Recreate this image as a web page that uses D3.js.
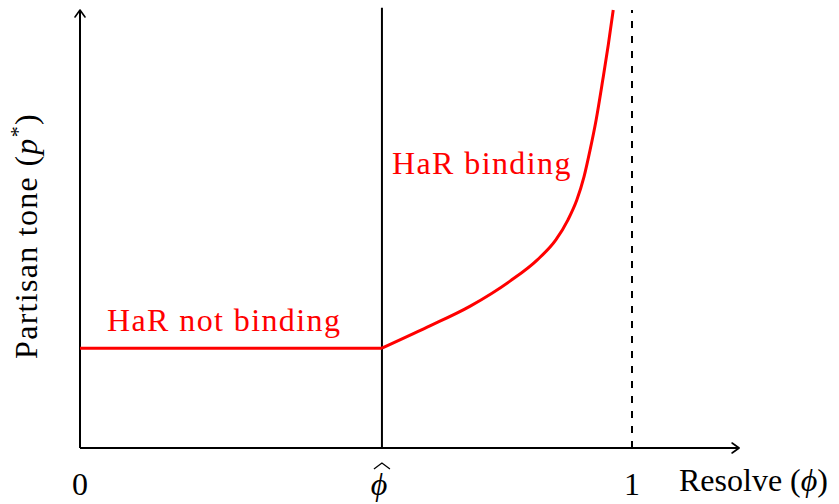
<!DOCTYPE html>
<html>
<head>
<meta charset="utf-8">
<script src="https://cdn.jsdelivr.net/npm/d3@7"></script>
<style>
  body { margin: 0; background: #fff; }
  text { font-family: "Liberation Serif", "Times New Roman", serif; }
</style>
</head>
<body>
<div id="chart"></div>
<script>
// values (x = resolve, y = partisan tone)
const phiHat = 0.547;
const flatLevel = 0.228;
const curveX = [0.547, 0.629, 0.707, 0.779, 0.828, 0.862, 0.884, 0.900, 0.913, 0.924, 0.935, 0.947, 0.957, 0.966];
const curveY = [0.228, 0.276, 0.324, 0.381, 0.429, 0.475, 0.521, 0.566, 0.619, 0.680, 0.749, 0.840, 0.920, 1.0];
const xTicks = [0, phiHat, 1];
const xTickLabels = ["0", "\u03D5", "1"];

const width = 839, height = 504;
const margin = {top: 10, right: 100, bottom: 56, left: 80};

const svg = d3.select("#chart").append("svg")
    .attr("width", width)
    .attr("height", height);

const x = d3.scaleLinear().domain([0, 1]).range([margin.left, 632]);
const y = d3.scaleLinear().domain([0, 1]).range([height - margin.bottom, margin.top]);

const xEnd = 1.194;   // where the x arrow stops
const yEnd = 1.0;

// axes with small open arrow heads
function arrowHead(tx, ty, dir) {
  const a = 7, b = 5;
  let p;
  if (dir === "right") p = [[tx - a, ty - b], [tx, ty], [tx - a, ty + b]];
  else p = [[tx - b, ty + a], [tx, ty], [tx + b, ty + a]];
  svg.append("path")
    .attr("d", d3.line()(p))
    .attr("fill", "none")
    .attr("stroke", "#000")
    .attr("stroke-width", 1.6)
    .attr("stroke-linejoin", "round")
    .attr("stroke-linecap", "round");
}

svg.append("line")
    .attr("x1", x(0)).attr("x2", x(xEnd))
    .attr("y1", y(0)).attr("y2", y(0))
    .attr("stroke", "#000").attr("stroke-width", 2);
arrowHead(x(xEnd), y(0), "right");

svg.append("line")
    .attr("x1", x(0)).attr("x2", x(0))
    .attr("y1", y(0)).attr("y2", y(yEnd))
    .attr("stroke", "#000").attr("stroke-width", 2);
arrowHead(x(0), y(yEnd), "up");

// phi hat vertical
svg.append("line")
    .attr("x1", x(phiHat)).attr("x2", x(phiHat))
    .attr("y1", y(0)).attr("y2", y(1.005))
    .attr("stroke", "#000").attr("stroke-width", 2);

// dashed line at 1
svg.append("line")
    .attr("x1", x(1)).attr("x2", x(1))
    .attr("y1", y(0)).attr("y2", y(1))
    .attr("stroke", "#000").attr("stroke-width", 2)
    .attr("stroke-dasharray", "7,8");

// red curve
const pts = [[0, flatLevel]].concat(curveX.map((v, i) => [v, curveY[i]]));
const flat = pts.slice(0, 2);
const rising = pts.slice(1);

svg.append("path")
    .attr("d", d3.line().x(d => x(d[0])).y(d => y(d[1]))(flat))
    .attr("fill", "none").attr("stroke", "#ff0000").attr("stroke-width", 3);
svg.append("path")
    .attr("d", d3.line().x(d => x(d[0])).y(d => y(d[1])).curve(d3.curveMonotoneX)(rising))
    .attr("fill", "none").attr("stroke", "#ff0000").attr("stroke-width", 3);

// tick labels
const fs = 32;
svg.selectAll(".tick-label")
  .data(xTicks)
  .enter().append("text")
    .attr("class", "tick-label")
    .attr("x", d => x(d) - (d === phiHat ? 3 : 0))
    .attr("y", 495)
    .attr("text-anchor", "middle")
    .style("font-size", fs + "px")
    .style("font-style", (d, i) => i === 1 ? "italic" : "normal")
    .text((d, i) => xTickLabels[i]);

// hat over phi
svg.append("path")
    .attr("d", d3.line()([[x(phiHat) - 8, 469], [x(phiHat), 463], [x(phiHat) + 8, 469]]))
    .attr("fill", "none").attr("stroke", "#000").attr("stroke-width", 1.3);

// axis titles
const xt = svg.append("text")
    .attr("x", 679).attr("y", 491)
    .style("font-size", fs + "px");
xt.append("tspan").text("Resolve (");
xt.append("tspan").style("font-style", "italic").text("\u03D5");
xt.append("tspan").text(")");

const yt = svg.append("text")
    .attr("transform", "translate(37," + 236 + ") rotate(-90)")
    .attr("text-anchor", "middle")
    .style("font-size", fs + "px")
    .style("letter-spacing", "1.3px");
yt.append("tspan").text("Partisan tone (");
yt.append("tspan").style("font-style", "italic").text("p");
yt.append("tspan").attr("dy", -12).style("font-size", "22px").text("*");
yt.append("tspan").attr("dy", 12).text(")");

// annotations
svg.append("text")
    .attr("x", 107).attr("y", 331)
    .attr("fill", "#ff0000")
    .style("font-size", fs + "px")
    .style("letter-spacing", "1.4px")
    .text("HaR not binding");

svg.append("text")
    .attr("x", 392).attr("y", 174)
    .attr("fill", "#ff0000")
    .style("font-size", fs + "px")
    .style("letter-spacing", "1.4px")
    .text("HaR binding");
</script>
</body>
</html>
